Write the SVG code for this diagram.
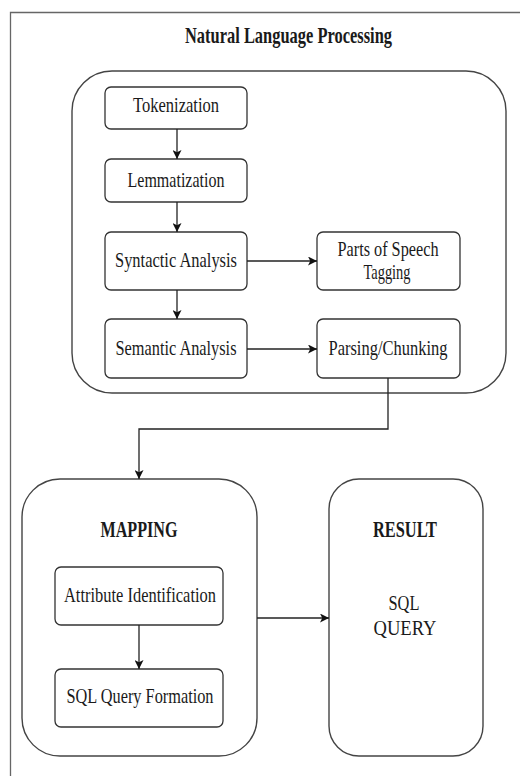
<svg xmlns="http://www.w3.org/2000/svg" width="520" height="776" viewBox="0 0 520 776">
<defs>
<marker id="arr" viewBox="0 0 10 10" refX="10" refY="5" markerWidth="9" markerHeight="9" markerUnits="userSpaceOnUse" orient="auto">
<path d="M0,0 L10,5 L0,10 L2.5,5 z" fill="#111"/>
</marker>
<style>
.box{fill:#fff;stroke:#333;stroke-width:1.3}
.cont{fill:#fff;stroke:#444;stroke-width:1.4}
text{font-family:'Liberation Serif','DejaVu Serif',serif}
.t{font-size:21px;fill:#1a1a1a;text-anchor:middle}
.b{font-size:23px;font-weight:bold;fill:#1a1a1a;text-anchor:middle}
.c{fill:none;stroke:#222;stroke-width:1.3;marker-end:url(#arr)}
</style>
</defs>
<rect width="520" height="776" fill="#fff"/>
<path d="M10.5,776 V12.5 H520" fill="none" stroke="#666" stroke-width="1.3"/>
<text id="title" class="b" x="288.5" y="43" font-size="24" textLength="207" lengthAdjust="spacingAndGlyphs">Natural Language Processing</text>

<g id="nlp">
<rect class="cont" x="72" y="71" width="434" height="322" rx="40" ry="40"/>
</g>
<g id="tokenization">
<rect class="box" x="105" y="87" width="142" height="42" rx="6"/>
<text class="t" x="176" y="112" textLength="86" lengthAdjust="spacingAndGlyphs">Tokenization</text>
</g>
<g id="lemmatization">
<rect class="box" x="105" y="159" width="142" height="43" rx="6"/>
<text class="t" x="176" y="187" textLength="97" lengthAdjust="spacingAndGlyphs">Lemmatization</text>
</g>
<g id="syntactic">
<rect class="box" x="105" y="232" width="142" height="58" rx="6"/>
<text class="t" x="176" y="267" textLength="122" lengthAdjust="spacingAndGlyphs">Syntactic Analysis</text>
</g>
<g id="pos">
<rect class="box" x="317" y="232" width="143" height="58" rx="6"/>
<text class="t" x="388" y="256" font-size="20" textLength="101" lengthAdjust="spacingAndGlyphs">Parts of Speech</text>
<text class="t" x="387" y="279" font-size="20" textLength="47" lengthAdjust="spacingAndGlyphs">Tagging</text>
</g>
<g id="semantic">
<rect class="box" x="105" y="319" width="142" height="59" rx="6"/>
<text class="t" x="176" y="355" textLength="121" lengthAdjust="spacingAndGlyphs">Semantic Analysis</text>
</g>
<g id="parsing">
<rect class="box" x="317" y="319" width="143" height="59" rx="6"/>
<text class="t" x="388" y="355" textLength="119" lengthAdjust="spacingAndGlyphs">Parsing/Chunking</text>
</g>

<g id="mapping">
<rect class="cont" x="22" y="479" width="235" height="277" rx="38" ry="38"/>
<text class="b" x="139" y="537" textLength="77" lengthAdjust="spacingAndGlyphs">MAPPING</text>
</g>
<g id="attribute">
<rect class="box" x="55" y="567" width="168" height="58" rx="6"/>
<text class="t" x="140" y="602" textLength="152" lengthAdjust="spacingAndGlyphs">Attribute Identification</text>
</g>
<g id="sqlformation">
<rect class="box" x="55" y="669" width="168" height="58" rx="6"/>
<text class="t" x="140" y="703" textLength="147" lengthAdjust="spacingAndGlyphs">SQL Query Formation</text>
</g>
<g id="result">
<rect class="cont" x="329" y="479" width="154" height="277" rx="30" ry="30"/>
<text class="b" x="405" y="537" textLength="64" lengthAdjust="spacingAndGlyphs">RESULT</text>
<text class="t" x="404" y="610" textLength="31" lengthAdjust="spacingAndGlyphs">SQL</text>
<text class="t" x="405" y="635" textLength="63" lengthAdjust="spacingAndGlyphs">QUERY</text>
</g>

<g id="connectors">
<path class="c" d="M177,129 V159"/>
<path class="c" d="M177,202 V232"/>
<path class="c" d="M177,290 V319"/>
<path class="c" d="M247,261 H317"/>
<path class="c" d="M247,349 H317"/>
<path class="c" d="M388,378 V429 H139 V479"/>
<path class="c" d="M139,625 V669"/>
<path class="c" d="M257,618 H329"/>
</g>
</svg>
